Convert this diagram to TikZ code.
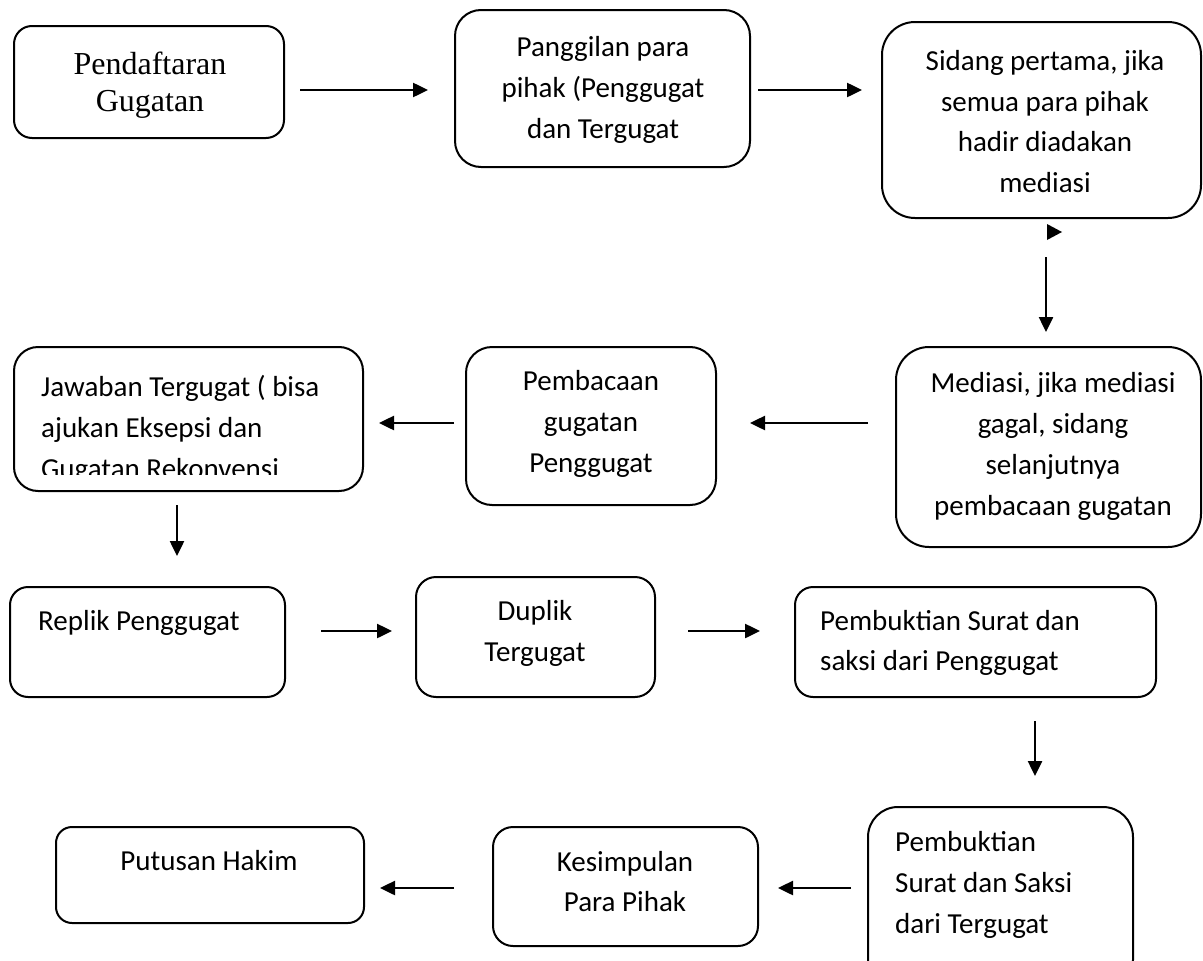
\documentclass[tikz,border=0pt]{standalone}
\usepackage{fontspec}
\setmainfont{Carlito}
\newfontfamily\timesf{Liberation Serif}
\usetikzlibrary{arrows.meta}
\tikzset{
  box/.style={draw, line width=2pt, inner sep=0pt, outer sep=0pt},
  arr/.style={line width=2.5pt, -{Triangle[length=15pt,width=14pt]}},
  txt/.style={inner sep=0pt, font=\fontsize{29}{41}\selectfont},
  ttxt/.style={inner sep=0pt, font=\timesf\fontsize{32}{37}\selectfont},
}
\newcommand\mkbox[6]{\node[box, rounded corners=#6pt, minimum width={(#4-#2)*1pt}, minimum height={(#5-#3)*1pt}] (#1) at ({(#2+#4)/2},{(#3+#5)/2}) {};}
\begin{document}
\begin{tikzpicture}[x=1pt,y=-1pt]
\useasboundingbox (0,0) rectangle (1203,961);
% boxes
\mkbox{A}{14}{26}{284}{138}{18}
\mkbox{B}{455}{10}{750}{167}{26}
\mkbox{C}{882}{22}{1201}{218}{33}
\mkbox{D}{896}{347}{1201}{547}{33}
\mkbox{E}{466}{347}{716}{505}{26}
\mkbox{F}{14}{347}{363}{491}{24}
\mkbox{G}{10}{587}{285}{697}{18}
\mkbox{H}{416}{577}{655}{697}{20}
\mkbox{I}{795}{587}{1156}{697}{18}
\mkbox{J}{868}{807}{1133}{990}{30}
\mkbox{K}{493}{827}{758}{946}{20}
\mkbox{L}{56}{827}{364}{923}{16}
% texts
\node[ttxt, anchor=base] (a1) at (150,74) {Pendaftaran};
\node[ttxt, anchor=base] (a2) at (150,111) {Gugatan};
\node[txt, anchor=base] (b1) at (603,56) {Panggilan para};
\node[txt, anchor=base] (b2) at (603,97) {pihak (Penggugat};
\node[txt, anchor=base] (b3) at (603,138) {dan Tergugat};
\node[txt, anchor=base] (c1) at (1045,70) {Sidang pertama, jika};
\node[txt, anchor=base] (c2) at (1045,111) {semua para pihak};
\node[txt, anchor=base] (c3) at (1045,151) {hadir diadakan};
\node[txt, anchor=base] (c4) at (1045,192) {mediasi};
\node[txt, anchor=base] (d1) at (1053,392) {Mediasi, jika mediasi};
\node[txt, anchor=base] (d2) at (1053,433) {gagal, sidang};
\node[txt, anchor=base] (d3) at (1053,474) {selanjutnya};
\node[txt, anchor=base] (d4) at (1053,515) {pembacaan gugatan};
\node[txt, anchor=base] (e1) at (591,390) {Pembacaan};
\node[txt, anchor=base] (e2) at (591,431) {gugatan};
\node[txt, anchor=base] (e3) at (591,472) {Penggugat};
\node[txt, anchor=base west] (f1) at (41,396) {Jawaban Tergugat ( bisa};
\node[txt, anchor=base west] (f2) at (41,437) {ajukan Eksepsi dan};
\begin{scope}
  \clip (0,0) rectangle (1203,474);
  \node[txt, anchor=base west] (f3) at (41,478) {Gugatan Rekonvensi};
\end{scope}
\node[txt, anchor=base west] (g1) at (38,630) {Replik Penggugat};
\node[txt, anchor=base] (h1) at (535,620) {Duplik};
\node[txt, anchor=base] (h2) at (535,661) {Tergugat};
\node[txt, anchor=base west] (i1) at (820,630) {Pembuktian Surat dan};
\node[txt, anchor=base west] (i2) at (820,670) {saksi dari Penggugat};
\node[txt, anchor=base west] (j1) at (895,851) {Pembuktian};
\node[txt, anchor=base west] (j2) at (895,892) {Surat dan Saksi};
\node[txt, anchor=base west] (j3) at (895,933) {dari Tergugat};
\node[txt, anchor=base] (k1) at (625,871) {Kesimpulan};
\node[txt, anchor=base] (k2) at (625,911) {Para Pihak};
\node[txt, anchor=base] (l1) at (209,870) {Putusan Hakim};
% arrow end points
\coordinate (ab0) at (300,90);  \coordinate (ab1) at (428,90);
\coordinate (bc0) at (758,90);  \coordinate (bc1) at (862,90);
\coordinate (cd0) at (1046,257); \coordinate (cd1) at (1046,332);
\coordinate (de0) at (868,423); \coordinate (de1) at (750,423);
\coordinate (ef0) at (454,423); \coordinate (ef1) at (379,423);
\coordinate (fg0) at (177,505); \coordinate (fg1) at (177,556);
\coordinate (gh0) at (321,631); \coordinate (gh1) at (392,631);
\coordinate (hi0) at (688,631); \coordinate (hi1) at (760,631);
\coordinate (ij0) at (1035,721); \coordinate (ij1) at (1035,776);
\coordinate (jk0) at (851,888); \coordinate (jk1) at (778,888);
\coordinate (kl0) at (454,888); \coordinate (kl1) at (380,888);
\draw[arr] (ab0) -- (ab1);
\draw[arr] (bc0) -- (bc1);
\draw[arr] (cd0) -- (cd1);
\draw[arr] (de0) -- (de1);
\draw[arr] (ef0) -- (ef1);
\draw[arr] (fg0) -- (fg1);
\draw[arr] (gh0) -- (gh1);
\draw[arr] (hi0) -- (hi1);
\draw[arr] (ij0) -- (ij1);
\draw[arr] (jk0) -- (jk1);
\draw[arr] (kl0) -- (kl1);
% stray arrowhead below the third box
\fill (1047,224) -- (1062,232) -- (1047,240) -- cycle;
\end{tikzpicture}
\end{document}
